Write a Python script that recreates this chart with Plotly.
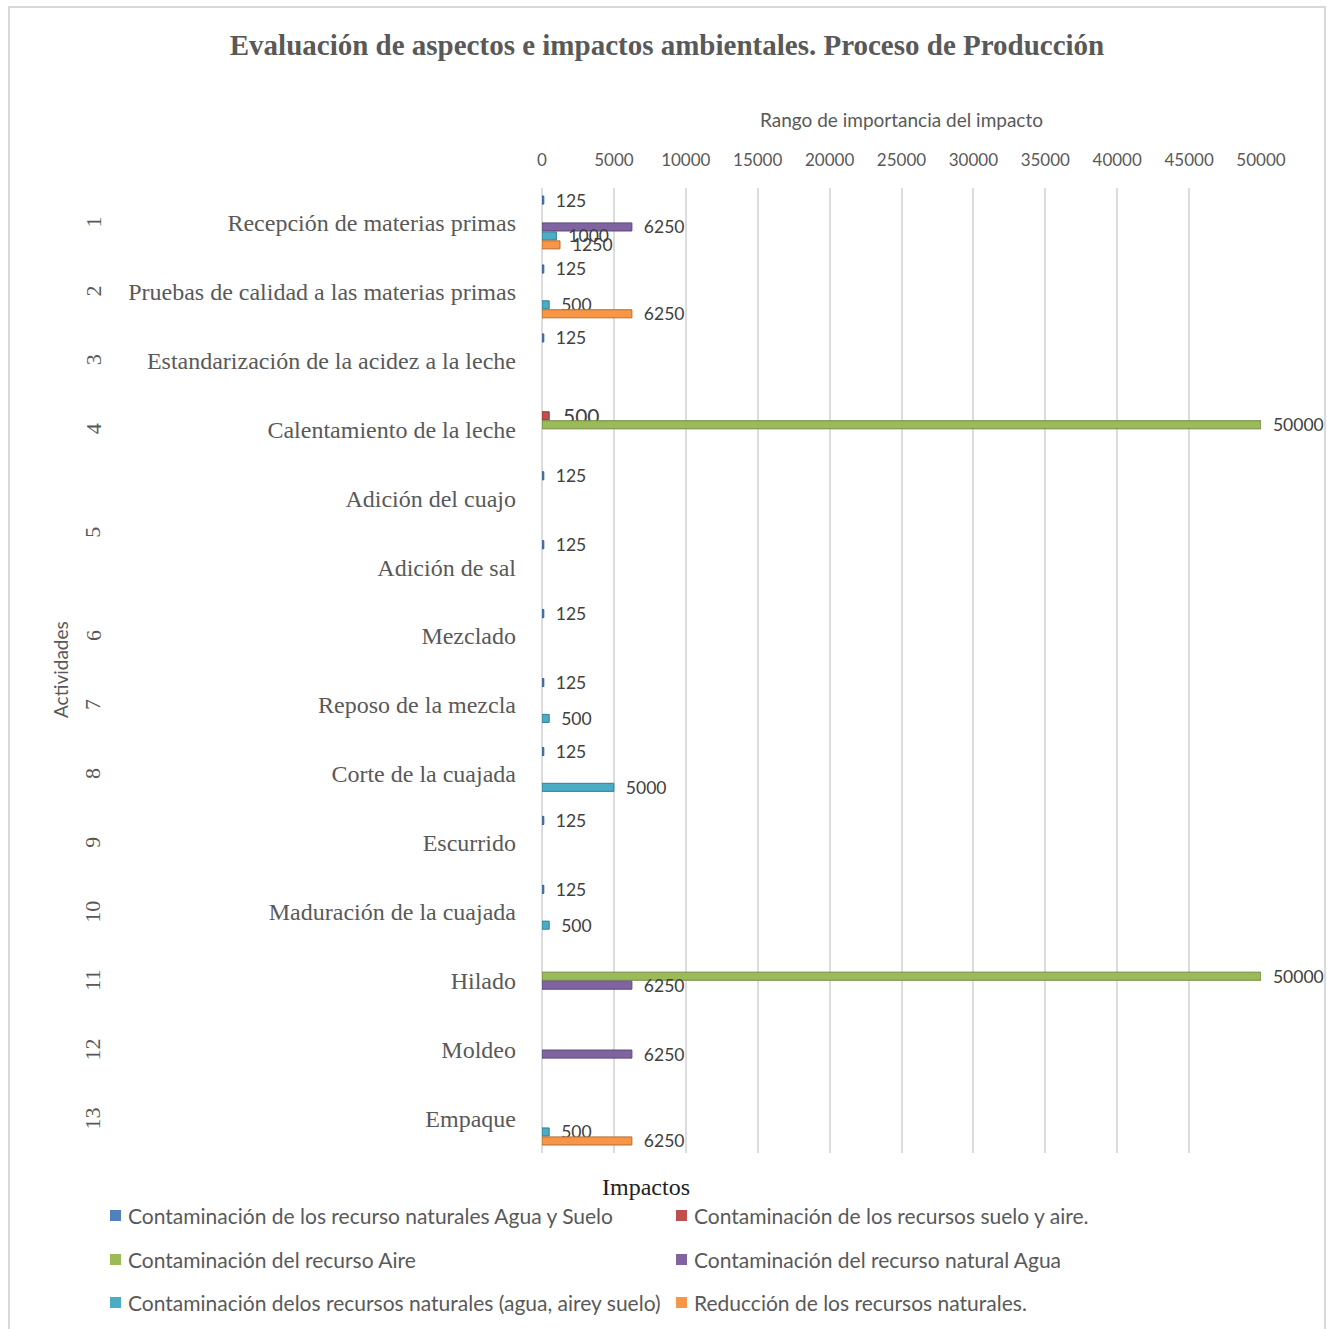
import plotly.graph_objects as go

titulo = "Evaluación de aspectos e impactos ambientales. Proceso de Producción"

actividades = [
    "Recepción de materias primas",
    "Pruebas de calidad a las materias primas",
    "Estandarización de la acidez a la leche",
    "Calentamiento de la leche",
    "Adición del cuajo",
    "Adición de sal",
    "Mezclado",
    "Reposo de la mezcla",
    "Corte de la cuajada",
    "Escurrido",
    "Maduración de la cuajada",
    "Hilado",
    "Moldeo",
    "Empaque",
]
grupos = ["1", "2", "3", "4", "5", "5", "6", "7", "8", "9", "10", "11", "12", "13"]

nombres = [
    "Contaminación de los recurso naturales Agua y Suelo",
    "Contaminación de los recursos suelo y aire.",
    "Contaminación del recurso Aire",
    "Contaminación del recurso natural Agua",
    "Contaminación delos recursos naturales (agua, airey suelo)",
    "Reducción de los recursos naturales.",
]
agua_suelo = [125, 125, 125, None, 125, 125, 125, 125, 125, 125, 125, None, None, None]
suelo_aire = [None, None, None, 500, None, None, None, None, None, None, None, None, None, None]
aire = [None, None, None, 50000, None, None, None, None, None, None, None, 50000, None, None]
agua = [6250, None, None, None, None, None, None, None, None, None, None, 6250, 6250, None]
agua_aire_suelo = [1000, 500, None, None, None, None, None, 500, 5000, None, 500, None, None, 500]
reduccion = [1250, 6250, None, None, None, None, None, None, None, None, None, None, None, 6250]

valores = [agua_suelo, suelo_aire, aire, agua, agua_aire_suelo, reduccion]
colores = ["#4f81bd", "#c0504d", "#9bbb59", "#8064a2", "#4bacc6", "#f79646"]
bordes = ["#385d8a", "#8c3836", "#71893f", "#5c4776", "#357d91", "#b66d31"]
tam_texto = [17.5, 21, 17.5, 17.5, 17.5, 17.5]

W, H = 1327, 1329
def px(x):
    return x / W
def py(y):
    return 1 - y / H

gris = "#595959"
sans = "Lato, Open Sans, sans-serif"
serif = "Liberation Serif, Times New Roman, serif"

fig = go.Figure()
for nombre, vals, color, borde, ts in zip(nombres, valores, colores, bordes, tam_texto):
    fig.add_trace(go.Bar(
        y=actividades, x=vals, name=nombre, orientation="h",
        marker=dict(color=color, line=dict(color=borde, width=1)),
        text=vals, texttemplate="\u00a0\u00a0%{text}", textposition="outside",
        textfont=dict(family=sans, size=ts, color="#404040"),
        constraintext="none", cliponaxis=False, showlegend=False,
    ))

fig.update_layout(
    width=W, height=H,
    margin=dict(l=0, r=0, t=0, b=0),
    paper_bgcolor="white", plot_bgcolor="white",
    barmode="group", bargap=0.22, bargroupgap=0.1,
    title=dict(text="<b>" + titulo + "</b>", x=px(667), xanchor="center",
               y=py(45), yanchor="middle",
               font=dict(family=serif, size=29, color=gris)),
    xaxis=dict(
        side="top", range=[0, 50000], domain=[px(542), px(1261)],
        tickvals=list(range(0, 50001, 5000)), tickformat="d",
        tickfont=dict(family=sans, size=17, color=gris),
        showgrid=True, gridcolor="#dcdcdc", gridwidth=2,
        zeroline=True, zerolinecolor="#dcdcdc", zerolinewidth=2,
        showline=False, ticks="", ticklabelstandoff=18, automargin=False,
        title=dict(text="Rango de importancia del impacto", standoff=15,
                   font=dict(family=sans, size=19, color=gris)),
    ),
    yaxis=dict(
        autorange="reversed", domain=[py(1153), py(188)],
        tickfont=dict(family=serif, size=24, color=gris),
        showgrid=False, showline=False, ticks="", ticklabelstandoff=25,
        automargin=False,
    ),
)

# números de grupo (rotados)
for g in dict.fromkeys(grupos):
    idx = [i for i, v in enumerate(grupos) if v == g]
    fig.add_annotation(x=px(93), xref="paper", y=sum(idx) / len(idx), yref="y",
                       text=g, textangle=-90, showarrow=False,
                       xanchor="center", yanchor="middle",
                       font=dict(family=serif, size=22, color=gris))

fig.add_annotation(x=px(60), xref="paper", y=py(670), yref="paper",
                   text="Actividades", textangle=-90, showarrow=False,
                   xanchor="center", yanchor="middle",
                   font=dict(family=sans, size=19, color=gris))
fig.add_annotation(x=px(646), xref="paper", y=py(1187), yref="paper",
                   text="Impactos", showarrow=False,
                   xanchor="center", yanchor="middle",
                   font=dict(family=serif, size=24, color="#222222"))

# leyenda manual en dos columnas
pos_leyenda = [(110, 1215), (676, 1215), (110, 1259), (676, 1259), (110, 1302), (676, 1302)]
for (lx, ly), nombre, color in zip(pos_leyenda, nombres, colores):
    fig.add_shape(type="rect", xref="paper", yref="paper",
                  x0=px(lx), x1=px(lx + 11), y0=py(ly + 6), y1=py(ly - 5),
                  fillcolor=color, line=dict(width=0))
    fig.add_annotation(x=px(lx + 16), xref="paper", y=py(ly), yref="paper",
                       text=nombre, xanchor="left", yanchor="middle", showarrow=False,
                       font=dict(family=sans, size=21, color=gris))

fig.add_shape(type="rect", xref="paper", yref="paper",
              x0=px(9), x1=px(1325), y0=py(1340), y1=py(7),
              line=dict(color="#d9d9d9", width=2), fillcolor="rgba(0,0,0,0)")

fig.write_html("out.html", config={"displayModeBar": False},
               post_script="document.body.style.margin='0';")
